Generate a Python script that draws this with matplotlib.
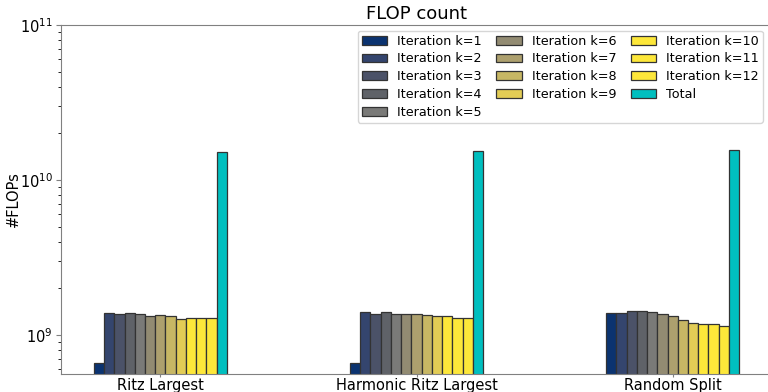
import numpy as np
import matplotlib
matplotlib.use("Agg")
import matplotlib.pyplot as plt

methods = ["Ritz Largest", "Harmonic Ritz Largest", "Random Split"]
iterations = [f"Iteration k={k}" for k in range(1, 13)]

ritz_largest = [6.6e8, 1.39e9, 1.37e9, 1.39e9, 1.37e9, 1.32e9, 1.34e9, 1.32e9, 1.26e9, 1.29e9, 1.29e9, 1.29e9]
harmonic_ritz = [6.6e8, 1.40e9, 1.37e9, 1.40e9, 1.37e9, 1.37e9, 1.37e9, 1.34e9, 1.32e9, 1.32e9, 1.29e9, 1.29e9]
random_split = [1.39e9, 1.39e9, 1.42e9, 1.42e9, 1.40e9, 1.37e9, 1.32e9, 1.24e9, 1.195e9, 1.17e9, 1.17e9, 1.15e9]
totals = [1.52e10, 1.53e10, 1.55e10]

series = [ritz_largest, harmonic_ritz, random_split]

colors = ["#0b3370", "#34456e", "#4b5268", "#5f6268", "#7a7a78", "#928b72",
          "#ada06e", "#c7b764", "#e2cc55", "#fde73a", "#fde73a", "#fde73a"]
total_color = "#00bfbf"

fig = plt.figure(figsize=(7.68, 3.92), dpi=100)
ax = fig.add_axes([61/768, 1 - 374/392, (772 - 61)/768, (374 - 25)/392])

width = 0.04
x = np.arange(len(methods))
edge = "#333333"
for k in range(12):
    vals = [s[k] for s in series]
    ax.bar(x + (k - 6) * width, vals, width, color=colors[k], edgecolor=edge,
           linewidth=0.9, label=iterations[k])
ax.bar(x + 6 * width, totals, width, color=total_color, edgecolor=edge, linewidth=0.9, label="Total")

ax.set_yscale("log")
ax.set_ylim(5.6e8, 1e11)
ax.set_xlim(-0.388, 2.388)
ax.set_xticks(x)
ax.set_xticklabels(methods, fontsize=10.5)
ax.tick_params(axis="y", labelsize=10.5, colors="#808080", labelcolor="black", pad=2.5)
ax.tick_params(axis="x", colors="#808080", labelcolor="black", length=2.5, pad=0.5)
for s in ax.spines.values():
    s.set_color("#808080")
ax.set_ylabel("#FLOPs", fontsize=10.5)
ax.yaxis.set_label_coords(-0.057, 0.5)
ax.set_title("FLOP count", fontsize=13, pad=4)
ax.legend(ncol=3, fontsize=9.2, loc="upper right", bbox_to_anchor=(0.9873, 0.983),
          handlelength=2.0, columnspacing=1.1, labelspacing=0.37, borderaxespad=0.0,
          borderpad=0.3)

fig.savefig("out.png", dpi=100)
